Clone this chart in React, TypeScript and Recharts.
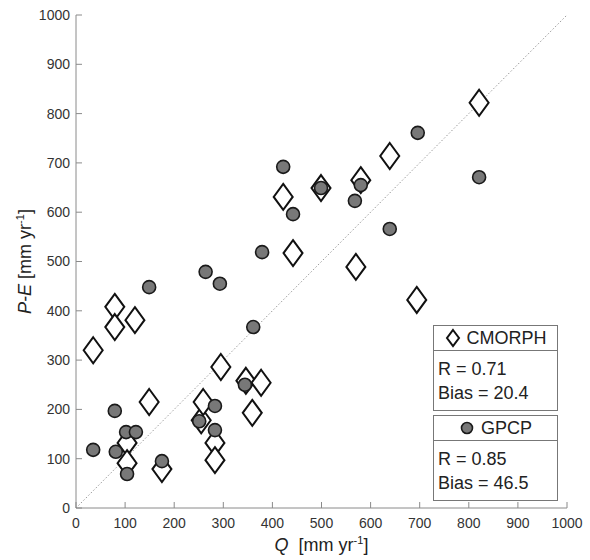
import React from "react";
import { ScatterChart, Scatter, XAxis, YAxis, ReferenceLine } from "recharts";

// station values, [mm/yr]
const cmorphQ = [35, 79, 79, 120, 149, 104, 104, 175, 255, 259, 295, 283, 283, 346, 377, 359, 422, 442, 499, 580, 639, 570, 694, 821];
const cmorphPE = [320, 408, 367, 381, 215, 132, 91, 79, 178, 215, 286, 132, 97, 258, 254, 193, 631, 517, 649, 665, 714, 489, 422, 822];
const gpcpQ = [35, 81, 79, 104, 102, 122, 149, 175, 251, 264, 293, 283, 283, 344, 361, 379, 422, 442, 499, 568, 580, 639, 696, 821];
const gpcpPE = [118, 114, 197, 69, 154, 154, 448, 95, 176, 479, 455, 207, 158, 250, 367, 519, 692, 596, 649, 623, 655, 566, 761, 671];
const ticks = [0, 100, 200, 300, 400, 500, 600, 700, 800, 900, 1000];
const stats = [
  { name: "CMORPH", r: "0.71", bias: "20.4" },
  { name: "GPCP", r: "0.85", bias: "46.5" },
];

const cmorphData = cmorphQ.map((q, i) => ({ q, pe: cmorphPE[i] }));
const gpcpData = gpcpQ.map((q, i) => ({ q, pe: gpcpPE[i] }));

const FONT = "'Liberation Sans', Arial, Helvetica, sans-serif";
const FRAME = "#8a8a8a";
const tickStyle = { fill: "#333", fontSize: 14, fontFamily: FONT };

const Diamond = (props: any) => {
  const { cx, cy } = props;
  if (cx == null || cy == null) return null;
  return (
    <path
      d={`M${cx},${cy - 13} L${cx + 9.5},${cy} L${cx},${cy + 13} L${cx - 9.5},${cy} Z`}
      fill="#fff"
      stroke="#111"
      strokeWidth={2}
    />
  );
};

const Dot = (props: any) => {
  const { cx, cy } = props;
  if (cx == null || cy == null) return null;
  return <circle cx={cx} cy={cy} r={6.5} fill="#787878" stroke="#1a1a1a" strokeWidth={1.6} />;
};

const XLabel = (props: any) => {
  const vb = props.viewBox;
  return (
    <text x={vb.x + vb.width / 2} y={vb.y + 43} textAnchor="middle" fontSize={18} fontFamily={FONT} fill="#222">
      <tspan fontStyle="italic">Q</tspan>
      <tspan>{"\u00a0\u00a0[mm yr"}</tspan>
      <tspan dy={-7} fontSize={11}>-1</tspan>
      <tspan dy={7}>]</tspan>
    </text>
  );
};

const YLabel = (props: any) => {
  const vb = props.viewBox;
  const x = vb.x + 31;
  const y = vb.y + vb.height / 2;
  return (
    <text x={x} y={y} transform={`rotate(-90 ${x} ${y})`} textAnchor="middle" fontSize={18} fontFamily={FONT} fill="#222">
      <tspan fontStyle="italic">P-E</tspan>
      <tspan>{" [mm yr"}</tspan>
      <tspan dy={-7} fontSize={11}>-1</tspan>
      <tspan dy={7}>]</tspan>
    </text>
  );
};

const boxStyle: React.CSSProperties = {
  border: "1px solid #777",
  background: "#fff",
  width: 125,
  fontFamily: FONT,
  fontSize: 18,
  color: "#222",
  boxSizing: "border-box",
};

const StatBox = ({ idx, top }: { idx: number; top: number }) => {
  const s = stats[idx];
  return (
    <div style={{ ...boxStyle, position: "absolute", left: 433, top }}>
      <div
        style={{
          height: 24,
          borderBottom: "1px solid #777",
          display: "flex",
          alignItems: "center",
          justifyContent: "center",
          gap: 6,
        }}
      >
        <svg width={16} height={20}>
          {idx === 0 ? (
            <path d="M8,2 L14,10 L8,18 L2,10 Z" fill="#fff" stroke="#111" strokeWidth={2} />
          ) : (
            <circle cx={8} cy={10} r={5.5} fill="#787878" stroke="#1a1a1a" strokeWidth={1.6} />
          )}
        </svg>
        <span>{s.name}</span>
      </div>
      <div style={{ padding: "6px 0 5px 4px", lineHeight: "24px" }}>
        <div>R = {s.r}</div>
        <div>Bias = {s.bias}</div>
      </div>
    </div>
  );
};

export default function App() {
  return (
    <div style={{ position: "absolute", left: 0, top: 0, width: 590, height: 560, background: "#fff" }}>
      <ScatterChart width={590} height={560} margin={{ top: 15, right: 23, bottom: 0, left: 0 }}>
        <XAxis
          dataKey="q"
          type="number"
          domain={[0, 1000]}
          ticks={ticks}
          interval={0}
          height={52}
          tickSize={-6}
          tickMargin={16}
          tick={tickStyle}
          axisLine={{ stroke: FRAME }}
          tickLine={{ stroke: FRAME }}
          label={XLabel}
        />
        <YAxis
          dataKey="pe"
          type="number"
          domain={[0, 1000]}
          ticks={ticks}
          interval={0}
          width={76}
          tickSize={-6}
          tickMargin={12}
          tick={tickStyle}
          axisLine={{ stroke: FRAME }}
          tickLine={{ stroke: FRAME }}
          label={YLabel}
        />
        <XAxis
          xAxisId="top"
          orientation="top"
          type="number"
          domain={[0, 1000]}
          ticks={ticks}
          interval={0}
          height={0}
          tickSize={-6}
          tick={false}
          axisLine={{ stroke: FRAME }}
          tickLine={{ stroke: FRAME }}
        />
        <YAxis
          yAxisId="right"
          orientation="right"
          type="number"
          domain={[0, 1000]}
          ticks={ticks}
          interval={0}
          width={0}
          tickSize={-6}
          tick={false}
          axisLine={{ stroke: FRAME }}
          tickLine={{ stroke: FRAME }}
        />
        <ReferenceLine
          segment={[{ x: 0, y: 0 }, { x: 1000, y: 1000 }]}
          stroke="#9a9a9a"
          strokeDasharray="1.5 2"
          ifOverflow="visible"
        />
        <Scatter name="CMORPH" data={cmorphData} shape={Diamond} isAnimationActive={false} />
        <Scatter name="GPCP" data={gpcpData} shape={Dot} isAnimationActive={false} />
      </ScatterChart>
      <StatBox idx={0} top={325} />
      <StatBox idx={1} top={415} />
    </div>
  );
}
